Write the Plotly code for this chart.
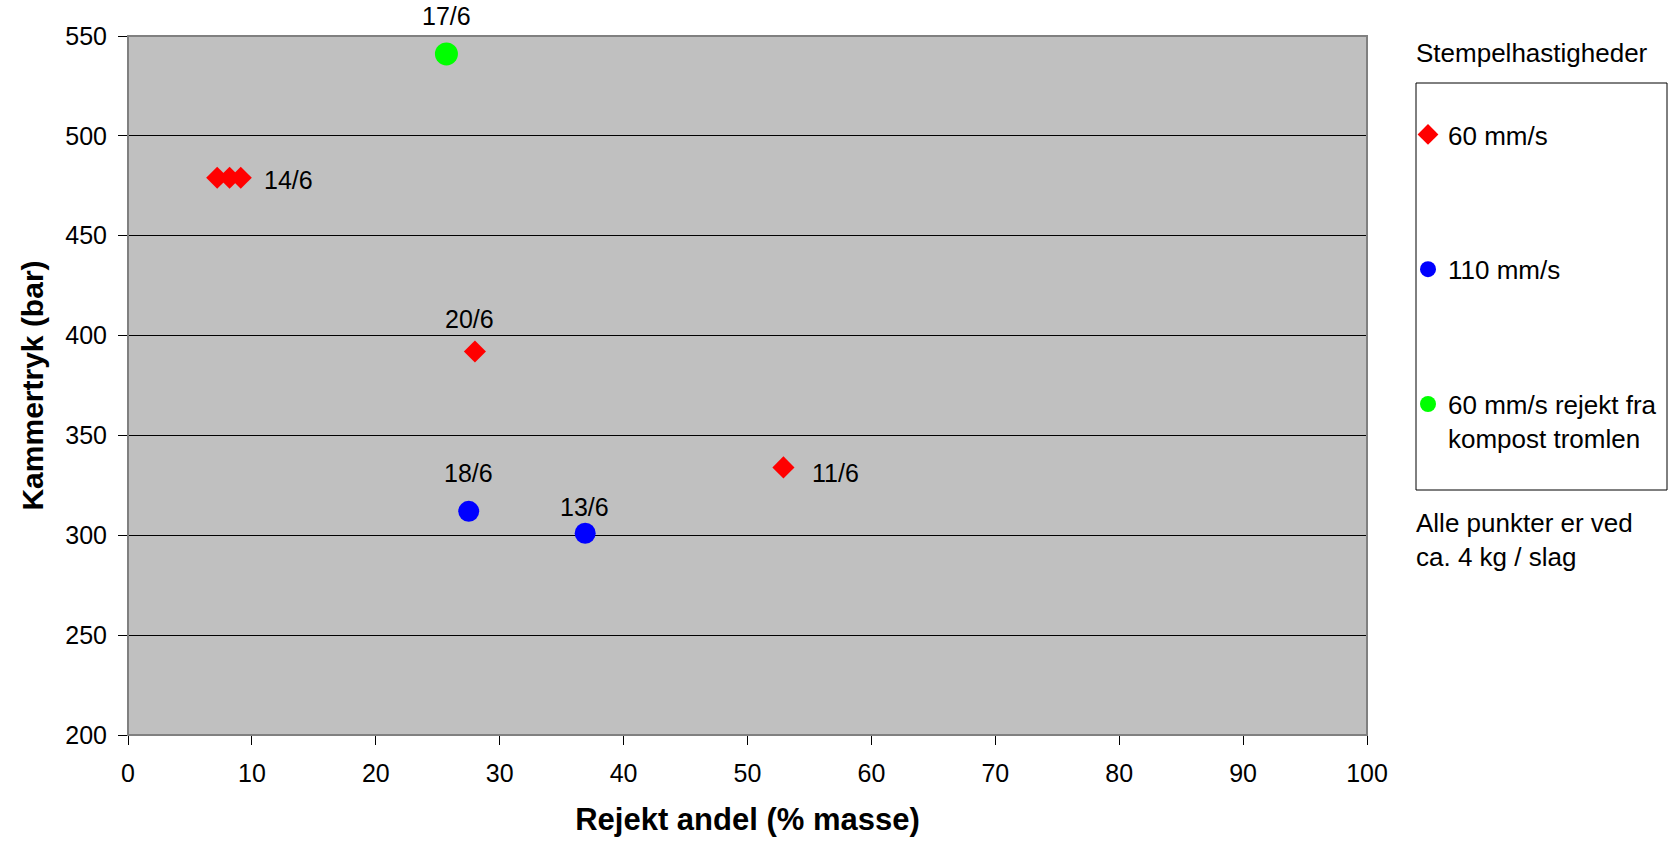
import plotly.graph_objects as go

# Measured points: reject share (% mass) vs chamber pressure (bar)
red_x = [7.2, 8.2, 9.1, 28.0, 52.9]
red_y = [479, 479, 479, 392, 334]
red_labels = ["", "", "14/6", "20/6", "11/6"]

blue_x = [27.5, 36.9]
blue_y = [312, 301]
blue_labels = ["18/6", "13/6"]

green_x = [25.7]
green_y = [541]
green_labels = ["17/6"]

series_names = ["60 mm/s", "110 mm/s", "60 mm/s rejekt fra<br>kompost tromlen"]

x_ticks = [0, 10, 20, 30, 40, 50, 60, 70, 80, 90, 100]
y_ticks = [200, 250, 300, 350, 400, 450, 500, 550]

# Label offsets (pixels) per point, same order as the data lists
red_offsets = [(0, 0), (0, 0), (48, -2), (-5, 33), (52, -6)]
blue_offsets = [(0, 38), (-1, 26)]
green_offsets = [(0, 38)]

FONT = "Liberation Sans, Arial, sans-serif"
W, H = 1670, 842
L, R, T, B = 128, 303, 36, 107
PW, PH = W - L - R, H - T - B


def px_x(p):
    return (p - L) / PW


def px_y(p):
    return (H - B - p) / PH


fig = go.Figure()

fig.add_trace(go.Scatter(
    x=red_x, y=red_y, mode="markers", name=series_names[0], legendgroup="a",
    marker=dict(symbol="diamond", size=17, color="#FF0000", line=dict(width=0)),
))
fig.add_trace(go.Scatter(
    x=blue_x, y=blue_y, mode="markers", name=series_names[1], legendgroup="b",
    marker=dict(symbol="circle", size=21, color="#0000FF", line=dict(width=0)),
))
fig.add_trace(go.Scatter(
    x=green_x, y=green_y, mode="markers", name=series_names[2], legendgroup="c",
    marker=dict(symbol="circle", size=23, color="#00FF00", line=dict(width=0)),
))

annotations = []
for xs, ys, labels, offs in [
    (red_x, red_y, red_labels, red_offsets),
    (blue_x, blue_y, blue_labels, blue_offsets),
    (green_x, green_y, green_labels, green_offsets),
]:
    for xv, yv, lab, (dx, dy) in zip(xs, ys, labels, offs):
        if not lab:
            continue
        annotations.append(dict(
            x=xv, y=yv, xref="x", yref="y", text=lab, showarrow=False,
            xshift=dx, yshift=dy, font=dict(family=FONT, size=25, color="black"),
        ))

# Legend heading and note beside the plot
annotations.append(dict(
    x=px_x(1414), y=px_y(53), xref="paper", yref="paper", xanchor="left", yanchor="middle",
    text="Stempelhastigheder", showarrow=False,
    font=dict(family=FONT, size=26, color="black"),
))
annotations.append(dict(
    x=px_x(1414), y=px_y(540), xref="paper", yref="paper", xanchor="left", yanchor="middle",
    text="Alle punkter er ved<br>ca. 4 kg / slag", showarrow=False, align="left",
    font=dict(family=FONT, size=26, color="black"),
))

shapes = [
    # plot frame
    dict(type="rect", xref="paper", yref="paper", x0=0, y0=0, x1=1, y1=1,
         line=dict(color="#808080", width=2), layer="above"),
    # legend box
    dict(type="rect", xref="paper", yref="paper",
         x0=px_x(1416), x1=px_x(1667), y0=px_y(490), y1=px_y(83),
         line=dict(color="black", width=1), fillcolor="rgba(0,0,0,0)"),
]

fig.update_layout(
    width=W, height=H,
    margin=dict(l=L, r=R, t=T, b=B, autoexpand=False),
    paper_bgcolor="white",
    plot_bgcolor="#C0C0C0",
    font=dict(family=FONT, size=25, color="black"),
    showlegend=True,
    legend=dict(
        x=px_x(1408), y=px_y(111), xanchor="left", yanchor="top",
        bgcolor="rgba(0,0,0,0)", borderwidth=0,
        traceorder="grouped", tracegroupgap=98, valign="top",
        font=dict(family=FONT, size=26, color="black"),
        itemsizing="trace",
    ),
    annotations=annotations,
    shapes=shapes,
    xaxis=dict(
        range=[0, 100], tickvals=x_ticks, ticktext=[str(v) for v in x_ticks],
        showgrid=False, zeroline=False,
        showline=True, linecolor="black", linewidth=1,
        ticks="outside", ticklen=9, tickcolor="black", ticklabelstandoff=7,
        tickfont=dict(family=FONT, size=25),
        title=dict(text="<b>Rejekt andel (% masse)</b>", standoff=22,
                   font=dict(family=FONT, size=31)),
    ),
    yaxis=dict(
        range=[200, 550], tickvals=y_ticks, ticktext=[str(v) for v in y_ticks],
        showgrid=True, gridcolor="black", gridwidth=1, zeroline=False,
        showline=True, linecolor="black", linewidth=1,
        ticks="outside", ticklen=9, tickcolor="black", ticklabelstandoff=6,
        tickfont=dict(family=FONT, size=25),
        title=dict(text="<b>Kammertryk (bar)</b>", standoff=12,
                   font=dict(family=FONT, size=30)),
    ),
)

fig.write_html("out.html")
